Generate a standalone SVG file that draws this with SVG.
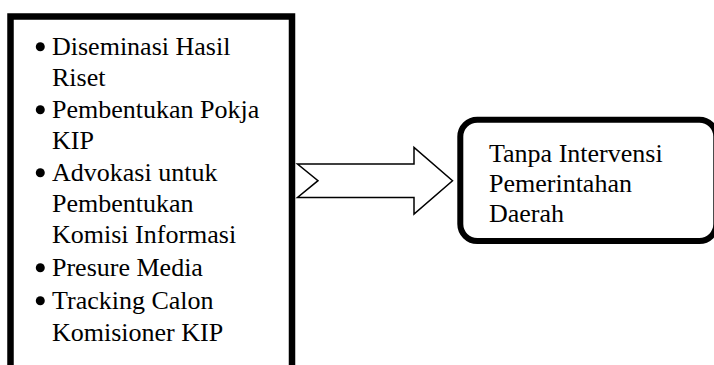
<svg xmlns="http://www.w3.org/2000/svg" width="714" height="365" viewBox="0 0 714 365">
<style>
.t{font-family:"Liberation Serif","Times New Roman",serif;font-size:26px;fill:#000}
.b{fill:#000}
</style>
<rect width="714" height="365" fill="#fff"/>
<g id="activities">
<rect x="10.5" y="16.5" width="281.5" height="360" fill="#fff" stroke="#000" stroke-width="6.5"/>
<circle class="b" cx="40.3" cy="46.7" r="4.5"/>
<text class="t" x="52" y="55">Diseminasi Hasil</text>
<text class="t" x="52" y="86">Riset</text>
<circle class="b" cx="40.3" cy="109.7" r="4.5"/>
<text class="t" x="52" y="118">Pembentukan Pokja</text>
<text class="t" x="52" y="149">KIP</text>
<circle class="b" cx="40.3" cy="172.7" r="4.5"/>
<text class="t" x="52" y="181">Advokasi untuk</text>
<text class="t" x="52" y="212">Pembentukan</text>
<text class="t" x="52" y="243">Komisi Informasi</text>
<circle class="b" cx="40.3" cy="267.7" r="4.5"/>
<text class="t" x="52" y="276">Presure Media</text>
<circle class="b" cx="40.3" cy="300.7" r="4.5"/>
<text class="t" x="52" y="309">Tracking Calon</text>
<text class="t" x="52" y="341">Komisioner KIP</text>
</g>
<g id="connectors">
<polygon points="297.5,164 414,164 414,147.5 452.5,180.7 414,214 414,197.5 297.5,197.5 318,180.7" fill="#fff" stroke="#000" stroke-width="1.5" stroke-linejoin="miter"/>
</g>
<g id="result">
<rect x="460.3" y="119.7" width="256" height="121.3" rx="17" ry="17" fill="#fff" stroke="#000" stroke-width="6"/>
<text class="t" x="489" y="162">Tanpa Intervensi</text>
<text class="t" x="489" y="192">Pemerintahan</text>
<text class="t" x="489" y="222">Daerah</text>
</g>
</svg>
